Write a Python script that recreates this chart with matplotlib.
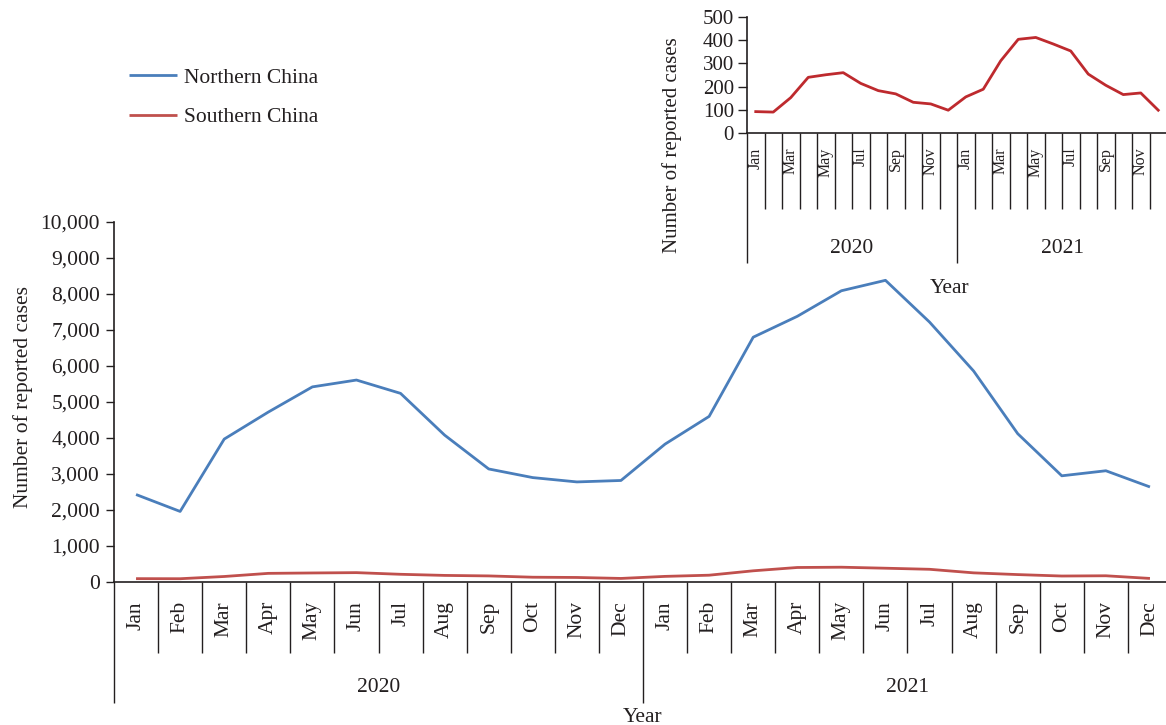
import matplotlib
matplotlib.use("Agg")
import matplotlib.pyplot as plt
from matplotlib.ticker import FuncFormatter, MultipleLocator

# ---- data ----
months = ['Jan', 'Feb', 'Mar', 'Apr', 'May', 'Jun',
          'Jul', 'Aug', 'Sep', 'Oct', 'Nov', 'Dec']
years = ['2020', '2021']
north = [2430, 1960, 3970, 4720, 5420, 5610, 5240, 4080, 3140, 2900, 2780, 2820,
         3830, 4600, 6800, 7380, 8090, 8380, 7220, 5860, 4120, 2950, 3090, 2640]
south = [93, 91, 153, 240, 251, 260, 214, 183, 169, 133, 126, 99,
         156, 189, 311, 403, 411, 383, 353, 254, 206, 166, 173, 99]
series_names = ['Northern China', 'Southern China']

W, H = 1166, 725
FS = 15.5
TXT = '#231f20'
plt.rcParams['font.family'] = ['Liberation Serif', 'DejaVu Serif']
plt.rcParams['text.color'] = TXT
plt.rcParams['axes.labelcolor'] = TXT
plt.rcParams['xtick.color'] = TXT
plt.rcParams['ytick.color'] = TXT
plt.rcParams['axes.edgecolor'] = TXT

fig = plt.figure(figsize=(W / 100, H / 100), dpi=100)


def px_box(left, top, right, bottom):
    return [left / W, 1 - bottom / H, (right - left) / W, (bottom - top) / H]


def category_axis(ax, n, short_len, long_len, label_every, label_off, year_off,
                  month_fs):
    ax.set_xlim(-0.5, n - 0.5)
    ax.set_xticks([-0.5, 11.5, 23.5])
    ax.set_xticks([i - 0.5 for i in range(n + 1)], minor=True)
    ax.tick_params(axis='x', which='major', length=long_len * 0.72, width=1,
                   labelbottom=False, direction='out')
    ax.tick_params(axis='x', which='minor', length=short_len * 0.72, width=1,
                   direction='out')
    for i in range(0, n, label_every):
        ax.annotate(months[i % 12], xy=(i, 0), xycoords=('data', 'axes fraction'),
                    xytext=(0, -label_off), textcoords='offset pixels',
                    rotation=90, ha='center', va='top', fontsize=month_fs)
    for k, y in enumerate(years):
        ax.annotate(y, xy=(5.5 + 12 * k, 0), xycoords=('data', 'axes fraction'),
                    xytext=(0, -year_off), textcoords='offset pixels',
                    ha='center', va='center', fontsize=FS)


# ---- main chart ----
ax = fig.add_axes(px_box(114, 222, 1172, 582))
x = list(range(len(north)))
l1, = ax.plot(x, north, color='#4a7ebb', lw=2.0, solid_capstyle='butt')
l2, = ax.plot(x, south, color='#c0504d', lw=2.0, solid_capstyle='butt')
ax.set_ylim(0, 10000)
ax.yaxis.set_major_locator(MultipleLocator(1000))
ax.yaxis.set_major_formatter(FuncFormatter(lambda v, p: f'{int(v):,}'))
ax.tick_params(axis='y', length=6, width=1, labelsize=FS, pad=4)
for s in ['top', 'right']:
    ax.spines[s].set_visible(False)
for s in ['left', 'bottom']:
    ax.spines[s].set_linewidth(1.2)
category_axis(ax, 24, 71, 121, 1, 19, 105, FS)
ax.annotate('Year', xy=(0.5, 0), xycoords='axes fraction', xytext=(0, -135),
            textcoords='offset pixels', ha='center', va='center', fontsize=FS)
ax.set_ylabel('Number of reported cases', fontsize=FS)
ax.yaxis.set_label_coords(-0.077, 0.515)

fig.legend([l1, l2], series_names, loc='upper left',
           bbox_to_anchor=(118 / W, 1 - 57 / H), frameon=False, borderpad=0,
           fontsize=FS, handlelength=2.23, handletextpad=0.33, labelspacing=0.9)

# ---- inset: Southern China ----
ax2 = fig.add_axes(px_box(747, 16.7, 1167, 133.3))
ax2.plot(x, south, color='#be2a2e', lw=2.0)
ax2.set_ylim(0, 500)
ax2.yaxis.set_major_locator(MultipleLocator(100))
ax2.tick_params(axis='y', length=6.5, width=1, labelsize=15, pad=3)
for s in ['top', 'right']:
    ax2.spines[s].set_visible(False)
for s in ['left', 'bottom']:
    ax2.spines[s].set_linewidth(1.2)
category_axis(ax2, 24, 76, 130, 2, 14, 115, 11.5)
ax2.annotate('Year', xy=(0.5, 0), xycoords='axes fraction', xytext=(-7, -155),
             textcoords='offset pixels', ha='center', va='center', fontsize=FS)
ax2.set_ylabel('Number of reported cases', fontsize=15)
ax2.yaxis.set_label_coords(-0.155, -0.10)

fig.savefig('out.png', dpi=100)
